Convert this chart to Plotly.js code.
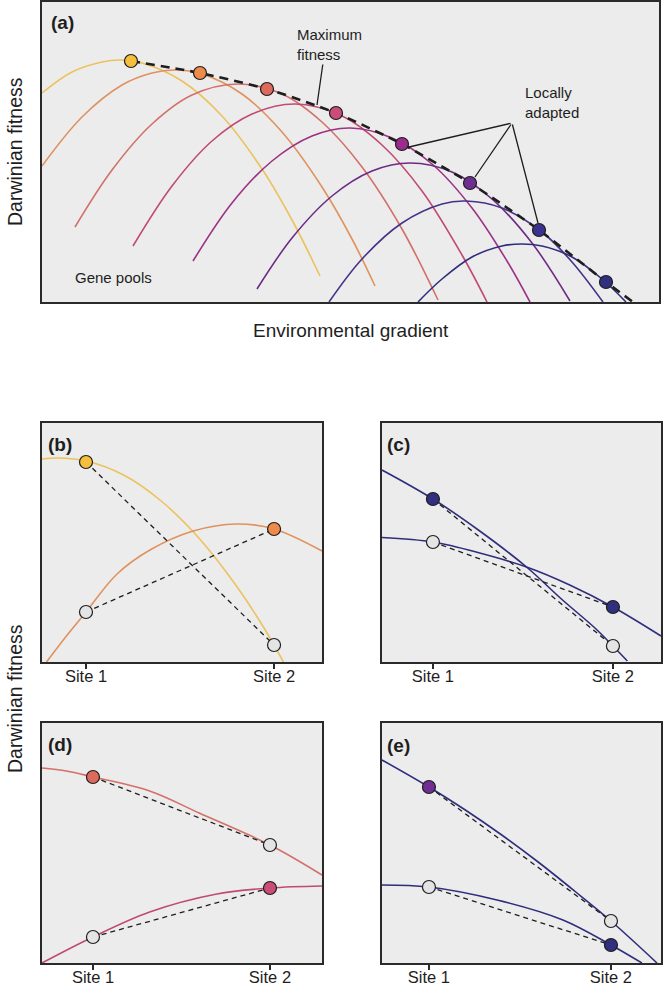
<!DOCTYPE html>
<html>
<head>
<meta charset="utf-8">
<script src="https://cdn.plot.ly/plotly-3.0.1.min.js"></script>
<style>html,body{margin:0;padding:0;background:#fff;}</style>
</head>
<body>
<div id="chart" style="width:664px;height:997px;"></div>
<script>
// ---------- Panel (a): gene pools along an environmental gradient ----------
const poolNames = ['yellow','orange','coral','pink','magenta','purple','indigo','navy'];
const poolX = [
  [0, 0.3, 0.6, 0.78, 1.0, 1.4, 1.8, 2.2, 2.5, 2.78],
  [0, 0.4, 0.8, 1.1, 1.33, 1.6, 2.0, 2.4, 2.8, 3.1, 3.33],
  [0.33, 0.7, 1.1, 1.5, 1.96, 2.4, 2.8, 3.2, 3.6, 3.96],
  [0.91, 1.3, 1.7, 2.1, 2.53, 3.0, 3.4, 3.8, 4.2, 4.45],
  [1.51, 1.9, 2.3, 2.7, 3.08, 3.5, 3.9, 4.3, 4.65, 4.88],
  [2.15, 2.5, 2.9, 3.3, 3.68, 4.1, 4.5, 4.9, 5.28],
  [2.87, 3.2, 3.6, 4.0, 4.24, 4.6, 5.0, 5.3, 5.61],
  [3.76, 4.0, 4.3, 4.6, 4.8, 5.0, 5.3, 5.6, 5.84]
];
const poolY = [
  [2.09, 2.30, 2.40, 2.42, 2.39, 2.21, 1.86, 1.33, 0.82, 0.26],
  [1.36, 1.85, 2.17, 2.29, 2.32, 2.28, 2.08, 1.70, 1.15, 0.63, 0.16],
  [0.75, 1.32, 1.78, 2.07, 2.18, 2.08, 1.80, 1.35, 0.73, 0.02],
  [0.56, 1.16, 1.61, 1.88, 1.98, 1.86, 1.57, 1.11, 0.47, 0],
  [0.41, 0.99, 1.41, 1.66, 1.74, 1.64, 1.38, 0.94, 0.41, 0],
  [0.13, 0.64, 1.06, 1.31, 1.39, 1.30, 1.03, 0.59, 0.01],
  [0, 0.43, 0.79, 0.98, 1.01, 0.94, 0.70, 0.40, 0],
  [0, 0.23, 0.45, 0.56, 0.58, 0.56, 0.45, 0.23, 0]
];
const optimumX = [0.89, 1.58, 2.25, 2.94, 3.60, 4.28, 4.97, 5.64];
const optimumY = [2.41, 2.29, 2.13, 1.89, 1.58, 1.19, 0.72, 0.20];
const envelopeX = [0.89, 1.58, 2.25, 2.94, 3.60, 4.28, 4.97, 5.64, 5.91];
const envelopeY = [2.41, 2.29, 2.13, 1.89, 1.58, 1.19, 0.72, 0.20, 0.0];

// ---------- Panels (b)-(e): two sites ----------
const siteX = [1, 2];
const siteLabels = ['Site 1', 'Site 2'];

const bYellowX = [0.766, 0.85, 1.0, 1.2, 1.4, 1.6, 1.8, 1.95, 2.05];
const bYellowY = [2.03, 2.04, 2.01, 1.87, 1.61, 1.24, 0.76, 0.33, 0.0];
const bOrangeX = [0.79, 0.9, 1.0, 1.165, 1.34, 1.57, 1.80, 2.0, 2.255];
const bOrangeY = [0, 0.27, 0.50, 0.88, 1.12, 1.31, 1.38, 1.33, 1.11];
const bYellowSiteY = [2.00, 0.17];
const bOrangeSiteY = [0.50, 1.33];

const cSteepX = [0.717, 1.0, 1.26, 1.52, 1.72, 1.9, 2.0, 2.08];
const cSteepY = [1.92, 1.63, 1.31, 0.95, 0.62, 0.34, 0.16, 0.01];
const cFlatX = [0.717, 1.0, 1.26, 1.52, 1.76, 2.0, 2.267];
const cFlatY = [1.245, 1.20, 1.09, 0.95, 0.77, 0.55, 0.26];
const cSteepSiteY = [1.63, 0.16];
const cFlatSiteY = [1.20, 0.55];

const dCoralX = [0.712, 0.85, 1.0, 1.32, 1.6, 2.0, 2.294];
const dCoralY = [1.95, 1.92, 1.86, 1.72, 1.50, 1.18, 0.88];
const dPinkX = [0.712, 1.0, 1.32, 1.7, 2.0, 2.294];
const dPinkY = [0.0, 0.26, 0.51, 0.69, 0.75, 0.77];
const dCoralSiteY = [1.86, 1.18];
const dPinkSiteY = [0.26, 0.75];

const eUpperX = [0.742, 1.0, 1.2, 1.4, 1.6, 1.8, 2.0, 2.253];
const eUpperY = [2.03, 1.76, 1.53, 1.28, 1.01, 0.72, 0.42, 0.0];
const eLowerX = [0.742, 1.0, 1.374, 1.736, 2.0, 2.17];
const eLowerY = [0.78, 0.76, 0.63, 0.43, 0.18, 0.0];
const eUpperSiteY = [1.76, 0.42];
const eLowerSiteY = [0.76, 0.18];

// ---------- styles ----------
const lineCol = {yellow:'#EBC35E', orange:'#E0925E', coral:'#D3706A', pink:'#C04B72', magenta:'#9C3284', purple:'#6C2C83', indigo:'#473287', navy:'#2F2E7C'};
const dotCol  = {yellow:'#F5BE3C', orange:'#EE8A4A', coral:'#DD6A5C', pink:'#C94C79', magenta:'#9B2B8C', purple:'#6F2E92', indigo:'#3B318E', navy:'#30307F', white:'#E4E4E4'};
const FONT = 'Liberation Sans, Arial, Helvetica, sans-serif';
const INK = '#1e1e1e';

const traces = [];
function curve(x, y, color, xa, ya) {
  traces.push({x, y, xaxis:xa, yaxis:ya, type:'scatter', mode:'lines',
    line:{color, width:1.6, shape:'spline', smoothing:1}, hoverinfo:'skip'});
}
function dashed(x, y, xa, ya, w, dash) {
  traces.push({x, y, xaxis:xa, yaxis:ya, type:'scatter', mode:'lines',
    line:{color:INK, width:w, dash}, hoverinfo:'skip'});
}
function dots(x, y, colors, xa, ya) {
  traces.push({x, y, xaxis:xa, yaxis:ya, type:'scatter', mode:'markers',
    marker:{size:13, color:colors, line:{color:INK, width:1.2}}, hoverinfo:'skip', cliponaxis:false});
}

// panel a
poolNames.forEach((n, i) => curve(poolX[i], poolY[i], lineCol[n], 'x', 'y'));
traces.push({x:envelopeX, y:envelopeY, xaxis:'x', yaxis:'y', type:'scatter', mode:'lines',
  line:{color:INK, width:2.6, dash:'9px,6px', shape:'spline', smoothing:0.6}, hoverinfo:'skip'});
dots(optimumX, optimumY, poolNames.map(n => dotCol[n]), 'x', 'y');

// panel b
curve(bYellowX, bYellowY, lineCol.yellow, 'x2', 'y2');
curve(bOrangeX, bOrangeY, lineCol.orange, 'x2', 'y2');
dashed(siteX, bYellowSiteY, 'x2', 'y2', 1.3, '5px,4px');
dashed(siteX, bOrangeSiteY, 'x2', 'y2', 1.3, '5px,4px');
dots(siteX, bYellowSiteY, [dotCol.yellow, dotCol.white], 'x2', 'y2');
dots(siteX, bOrangeSiteY, [dotCol.white, dotCol.orange], 'x2', 'y2');

// panel c
curve(cSteepX, cSteepY, lineCol.navy, 'x3', 'y3');
curve(cFlatX, cFlatY, lineCol.navy, 'x3', 'y3');
dashed(siteX, cSteepSiteY, 'x3', 'y3', 1.3, '5px,4px');
dashed(siteX, cFlatSiteY, 'x3', 'y3', 1.3, '5px,4px');
dots(siteX, cSteepSiteY, [dotCol.navy, dotCol.white], 'x3', 'y3');
dots(siteX, cFlatSiteY, [dotCol.white, dotCol.navy], 'x3', 'y3');

// panel d
curve(dCoralX, dCoralY, lineCol.coral, 'x4', 'y4');
curve(dPinkX, dPinkY, lineCol.pink, 'x4', 'y4');
dashed(siteX, dCoralSiteY, 'x4', 'y4', 1.3, '5px,4px');
dashed(siteX, dPinkSiteY, 'x4', 'y4', 1.3, '5px,4px');
dots(siteX, dCoralSiteY, [dotCol.coral, dotCol.white], 'x4', 'y4');
dots(siteX, dPinkSiteY, [dotCol.white, dotCol.pink], 'x4', 'y4');

// panel e
curve(eUpperX, eUpperY, lineCol.navy, 'x5', 'y5');
curve(eLowerX, eLowerY, lineCol.navy, 'x5', 'y5');
dashed(siteX, eUpperSiteY, 'x5', 'y5', 1.3, '5px,4px');
dashed(siteX, eLowerSiteY, 'x5', 'y5', 1.3, '5px,4px');
dots(siteX, eUpperSiteY, [dotCol.purple, dotCol.white], 'x5', 'y5');
dots(siteX, eLowerSiteY, [dotCol.white, dotCol.navy], 'x5', 'y5');

// ---------- layout ----------
const W = 664, H = 997;
const fx = p => p / W, fy = p => 1 - p / H;
const frame = {showline:true, mirror:true, linecolor:'#2a2a2a', linewidth:1.6,
  showgrid:false, zeroline:false, fixedrange:true};
const noTicks = Object.assign({}, frame, {showticklabels:false, ticks:''});
const siteAxis = Object.assign({}, frame, {tickmode:'array', tickvals:siteX, ticktext:siteLabels,
  ticks:'outside', ticklen:5, tickwidth:1.2, tickcolor:'#2a2a2a', ticklabelstandoff:-6,
  tickfont:{family:FONT, size:16.5, color:INK}});

const layout = {
  width:W, height:H, margin:{l:0, r:0, t:0, b:0},
  paper_bgcolor:'#ffffff', plot_bgcolor:'#ECECEC', showlegend:false,
  font:{family:FONT, color:INK},
  xaxis:  Object.assign({}, noTicks, {domain:[fx(42), fx(659)], range:[0, 6.17], anchor:'y'}),
  yaxis:  Object.assign({}, noTicks, {domain:[fy(302), fy(2)], range:[0, 3.0], anchor:'x'}),
  xaxis2: Object.assign({}, siteAxis, {domain:[fx(42), fx(322)], range:[0.766, 2.255], anchor:'y2'}),
  yaxis2: Object.assign({}, noTicks, {domain:[fy(662), fy(423)], range:[0, 2.39], anchor:'x2'}),
  xaxis3: Object.assign({}, siteAxis, {domain:[fx(382), fx(661)], range:[0.717, 2.267], anchor:'y3'}),
  yaxis3: Object.assign({}, noTicks, {domain:[fy(662), fy(423)], range:[0, 2.39], anchor:'x3'}),
  xaxis4: Object.assign({}, siteAxis, {domain:[fx(42), fx(322)], range:[0.712, 2.294], anchor:'y4'}),
  yaxis4: Object.assign({}, noTicks, {domain:[fy(963), fy(723)], range:[0, 2.40], anchor:'x4'}),
  xaxis5: Object.assign({}, siteAxis, {domain:[fx(382), fx(661)], range:[0.742, 2.275], anchor:'y5'}),
  yaxis5: Object.assign({}, noTicks, {domain:[fy(963), fy(723)], range:[0, 2.40], anchor:'x5'}),
  annotations: []
};

const A = layout.annotations;
function label(text, px, py, opts) {
  A.push(Object.assign({xref:'paper', yref:'paper', x:fx(px), y:fy(py), text, showarrow:false,
    xanchor:'left', yanchor:'middle', font:{family:FONT, size:15, color:INK}}, opts || {}));
}
// panel letters
label('<b>(a)</b>', 49, 23, {font:{family:FONT, size:19, color:INK}});
label('<b>(b)</b>', 46, 444, {font:{family:FONT, size:19, color:INK}});
label('<b>(c)</b>', 385, 444, {font:{family:FONT, size:19, color:INK}});
label('<b>(d)</b>', 46, 744, {font:{family:FONT, size:19, color:INK}});
label('<b>(e)</b>', 385, 745, {font:{family:FONT, size:19, color:INK}});
// axis titles
label('Environmental gradient', 351, 330, {xanchor:'center', font:{family:FONT, size:19, color:INK}});
label('Darwinian fitness', 15, 152, {xanchor:'center', textangle:-90, font:{family:FONT, size:19.5, color:INK}});
label('Darwinian fitness', 15, 699, {xanchor:'center', textangle:-90, font:{family:FONT, size:19.5, color:INK}});

// in-plot text of panel a (data coordinates)
function note(text, x, y) {
  A.push({xref:'x', yref:'y', x, y, text, showarrow:false, xanchor:'left', yanchor:'middle', align:'left',
    font:{family:FONT, size:15, color:INK}});
}
note('Maximum<br>fitness', 2.53, 2.57);
note('Locally<br>adapted', 4.81, 1.99);
note('Gene pools', 0.31, 0.24);

// leader lines
function leader(x, y, ax, ay) {
  A.push({xref:'x', yref:'y', axref:'x', ayref:'y', x, y, ax, ay, text:'', showarrow:true,
    arrowhead:0, arrowwidth:1.3, arrowcolor:INK, standoff:0, startstandoff:0});
}
leader(2.75, 1.97, 2.81, 2.39);
leader(3.67, 1.55, 4.70, 1.79);
leader(4.33, 1.25, 4.70, 1.79);
leader(4.96, 0.79, 4.70, 1.79);

Plotly.newPlot('chart', traces, layout, {staticPlot:true, displayModeBar:false});
</script>
</body>
</html>
